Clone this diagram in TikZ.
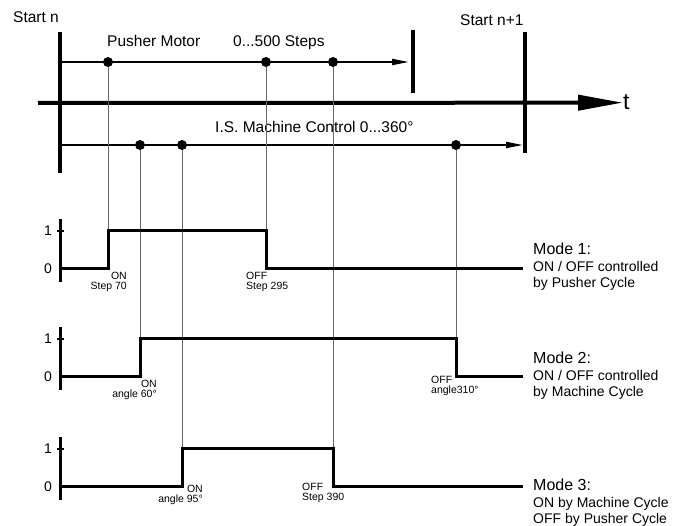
\documentclass[tikz,border=0pt]{standalone}
\usepackage{fontspec}
\setmainfont{Liberation Sans}
\usetikzlibrary{arrows.meta}

\tikzset{
  bar/.style={line width=3.5pt},
  sig/.style={line width=3pt},
  track/.style={line width=2pt, -{Triangle[length=17pt,width=6pt]}},
  guide/.style={line width=1pt, black!60},
  dot/.style={circle, fill, inner sep=0pt, minimum size=10pt},
  lbl/.style={inner sep=0pt, font=\fontsize{15.5}{18}\selectfont},
  evlbl/.style={inner sep=0pt, font=\fontsize{10.5}{10}\selectfont},
  modelbl/.style={inner sep=0pt, align=left, anchor=north west, font=\fontsize{14}{16.5}\selectfont}
}

\begin{document}
\begin{tikzpicture}[x=1pt,y=-1pt]
  \useasboundingbox (0,0) rectangle (686,526);

  % time axis
  \node[inner sep=0pt, font=\fontsize{23}{25}\selectfont, anchor=base west] (t) at (623,110) {t};
  \coordinate (t0) at (38,103);
  \draw[line width=4pt, -{Triangle[length=45pt,width=15pt]}] (t0) -- (t.west);

  % cycle limits
  \node[lbl, anchor=base west] (startn) at (13,23) {Start n};
  \node[lbl, anchor=base west] (startnn) at (460,26) {Start n+1};
  \draw[bar] (60,32) -- (60,173);
  \draw[bar] (525,32) -- (525,153);
  \draw[bar] (413,30) -- (413,93);

  % pusher and machine tracks
  \node[lbl, anchor=base west] (pusher) at (107,47) {Pusher Motor};
  \node[lbl, anchor=base west] (steps) at (233,47) {0...500 Steps};
  \node[lbl, anchor=base west] (machine) at (215,133) {I.S. Machine Control 0...360°};
  \coordinate (ps) at (60,62);
  \coordinate (pe) at (409,62);
  \coordinate (ms) at (60,145);
  \coordinate (me) at (523,145);
  \draw[track] (ps) -- (pe);
  \draw[track] (ms) -- (me);

  \foreach \n/\x in {p1/108, p2/266, p3/333}
    \node[dot] (\n) at (\x,62) {};
  \foreach \n/\x in {m1/140, m2/182, m3/456}
    \node[dot] (\n) at (\x,145) {};

  % modes
  \foreach \i/\hi/\lo/\on/\off in {1/231/269/108/266, 2/339/377/140/456, 3/449/487/182/333}{
    \coordinate (on\i) at (\on,\hi);
    \coordinate (off\i) at (\off,\hi);
    \draw[line width=3pt] (60,\hi-12) -- (60,\lo+13);
    \draw[line width=1.5pt] (57,\hi) -- (64,\hi);
    \node[inner sep=0pt, anchor=east, font=\fontsize{14}{16}\selectfont] (one\i) at (52,\hi) {1};
    \node[inner sep=0pt, anchor=east, font=\fontsize{14}{16}\selectfont] (zero\i) at (52,\lo) {0};
  }

  \draw[guide] (p1.south) -- (on1);
  \draw[guide] (p2.south) -- (off1);
  \draw[guide] (p3.south) -- (off3);
  \draw[guide] (m1.south) -- (on2);
  \draw[guide] (m2.south) -- (on3);
  \draw[guide] (m3.south) -- (off2);

  \draw[sig] (60,269) -- (108,269) -- (on1) -- (off1) -- (266,269) -- (523,269);
  \draw[sig] (60,377) -- (140,377) -- (on2) -- (off2) -- (456,377) -- (523,377);
  \draw[sig] (60,487) -- (182,487) -- (on3) -- (off3) -- (333,487) -- (523,487);

  % switching points
  \node[evlbl, align=right, anchor=north east] (on1l) at (127,272) {ON\\Step 70};
  \node[evlbl, align=left, anchor=north west] (off1l) at (246,272) {OFF\\Step 295};
  \node[evlbl, align=right, anchor=north east] (on2l) at (157,380) {ON\\angle 60°};
  \node[evlbl, align=left, anchor=north west] (off2l) at (431,376) {OFF\\angle310°};
  \node[evlbl, align=right, anchor=north east] (on3l) at (203,485) {ON\\angle 95°};
  \node[evlbl, align=left, anchor=north west] (off3l) at (302,483) {OFF\\Step 390};

  \node[modelbl] (mode1) at (533,243) {{\fontsize{16}{18}\selectfont Mode 1:}\\ON / OFF controlled\\by Pusher Cycle};
  \node[modelbl] (mode2) at (533,352) {{\fontsize{16}{18}\selectfont Mode 2:}\\ON / OFF controlled\\by Machine Cycle};
  \node[modelbl] (mode3) at (533,479) {{\fontsize{16}{18}\selectfont Mode 3:}\\ON by Machine Cycle\\OFF by Pusher Cycle};
\end{tikzpicture}
\end{document}
